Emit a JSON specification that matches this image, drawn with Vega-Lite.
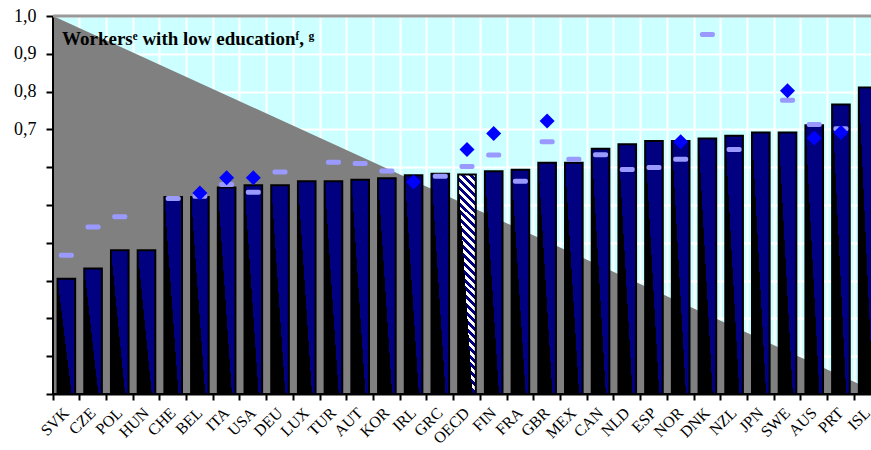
{
  "$schema": "https://vega.github.io/schema/vega-lite/v6.json",
  "width": 818,
  "height": 378,
  "autosize": {"type": "none"},
  "padding": {"left": 53, "top": 16, "right": 0, "bottom": 56},
  "background": "white",
  "config": {
    "view": {"fill": "#ccffff", "stroke": null},
    "font": "Liberation Serif",
    "axisY": {"title": null, "tickCount": 20, "grid": true, "gridColor": "white", "gridWidth": 2, "gridOpacity": 1, "domainColor": "black", "domainWidth": 2, "tickColor": "black", "tickWidth": 2, "tickSize": 7, "labelFont": "Liberation Serif", "labelFontSize": 18, "labelColor": "black", "labelPadding": 10, "labelOverlap": false, "labelBound": false}
  },
  "resolve": {"scale": {"x": "independent"}},
  "layer": [
    {
      "data": {"values": [{"tx": 0, "ty": 1}, {"tx": 31, "ty": 0}]},
      "mark": {"type": "area", "color": "#808080", "opacity": 1, "clip": true},
      "encoding": {
        "x": {"field": "tx", "type": "quantitative", "scale": {"domain": [0, 31], "range": [0, 828], "nice": false, "zero": false}, "axis": null},
        "y": {"field": "ty", "type": "quantitative", "scale": {"domain": [0, 1], "nice": false},
          "axis": {"values": [0, 0.1, 0.2, 0.3, 0.4, 0.5, 0.6, 0.7, 0.8, 0.9, 1], "tickCount": 20, "labelExpr": "datum.value >= 0.65 ? replace(format(datum.value, '.1f'), '.', ',') : ''"}},
        "y2": {"datum": 0}
      }
    },
    {
      "data": {"values": [
        {"c": "SVK", "bar": 0.305, "dash": 0.367},
        {"c": "CZE", "bar": 0.332, "dash": 0.442},
        {"c": "POL", "bar": 0.380, "dash": 0.469},
        {"c": "HUN", "bar": 0.380},
        {"c": "CHE", "bar": 0.521, "dash": 0.517},
        {"c": "BEL", "bar": 0.521, "dash": 0.523, "dia": 0.532},
        {"c": "ITA", "bar": 0.546, "dash": 0.554, "dia": 0.572},
        {"c": "USA", "bar": 0.552, "dash": 0.534, "dia": 0.572},
        {"c": "DEU", "bar": 0.552, "dash": 0.587},
        {"c": "LUX", "bar": 0.563},
        {"c": "TUR", "bar": 0.563, "dash": 0.613},
        {"c": "AUT", "bar": 0.567, "dash": 0.610},
        {"c": "KOR", "bar": 0.571, "dash": 0.590},
        {"c": "IRL", "bar": 0.579, "dia": 0.561},
        {"c": "GRC", "bar": 0.583, "dash": 0.576},
        {"c": "OECD", "bar": 0.581, "dash": 0.602, "dia": 0.647},
        {"c": "FIN", "bar": 0.589, "dash": 0.632, "dia": 0.689},
        {"c": "FRA", "bar": 0.593, "dash": 0.563},
        {"c": "GBR", "bar": 0.612, "dash": 0.667, "dia": 0.722},
        {"c": "MEX", "bar": 0.612, "dash": 0.621},
        {"c": "CAN", "bar": 0.649, "dash": 0.633},
        {"c": "NLD", "bar": 0.661, "dash": 0.594},
        {"c": "ESP", "bar": 0.669, "dash": 0.599},
        {"c": "NOR", "bar": 0.669, "dash": 0.621, "dia": 0.667},
        {"c": "DNK", "bar": 0.676, "dash": 0.951},
        {"c": "NZL", "bar": 0.683, "dash": 0.647},
        {"c": "JPN", "bar": 0.692},
        {"c": "SWE", "bar": 0.692, "dash": 0.777, "dia": 0.802},
        {"c": "AUS", "bar": 0.711, "dash": 0.713, "dia": 0.677},
        {"c": "PRT", "bar": 0.766, "dash": 0.702, "dia": 0.692},
        {"c": "ISL", "bar": 0.811}
      ]},
      "layer": [
        {
          "transform": [{"filter": "datum.c != 'OECD'"}],
          "mark": {"type": "bar", "width": {"band": 0.66}, "stroke": "black", "strokeWidth": 2,
            "fill": {"gradient": "linear", "x1": 0, "y1": 1, "x2": 1, "y2": 0.2,
              "stops": [{"offset": 0, "color": "black"}, {"offset": 0.488, "color": "black"}, {"offset": 0.488, "color": "#000080"}, {"offset": 1, "color": "#000080"}]}},
          "encoding": {
            "x": {"field": "c", "type": "nominal", "sort": null,
              "scale": {"domain": ["SVK","CZE","POL","HUN","CHE","BEL","ITA","USA","DEU","LUX","TUR","AUT","KOR","IRL","GRC","OECD","FIN","FRA","GBR","MEX","CAN","NLD","ESP","NOR","DNK","NZL","JPN","SWE","AUS","PRT","ISL"], "range": [0, 828], "paddingInner": 0, "paddingOuter": 0},
              "axis": {"title": null, "bandPosition": 0, "grid": true, "gridColor": "white", "gridWidth": 2, "gridOpacity": 1, "domainColor": "black", "domainWidth": 2, "tickColor": "black", "tickWidth": 2, "tickSize": 6, "labelAngle": -45, "labelAlign": "right", "labelBaseline": "middle", "labelOffset": 0, "labelFont": "Liberation Serif", "labelFontSize": 16, "labelColor": "black", "labelPadding": 10, "labelOverlap": false, "labelBound": false}},
            "y": {"field": "bar", "type": "quantitative", "scale": {"domain": [0, 1], "nice": false},
              "axis": {"values": [0, 0.1, 0.2, 0.3, 0.4, 0.5, 0.6, 0.7, 0.8, 0.9, 1], "tickCount": 20, "labelExpr": "datum.value >= 0.65 ? replace(format(datum.value, '.1f'), '.', ',') : ''"}}
          }
        },
        {
          "transform": [{"filter": "datum.c == 'OECD'"}],
          "mark": {"type": "bar", "width": {"band": 0.66}, "strokeWidth": 0,
            "fill": {"gradient": "linear", "x1": 1, "y1": 0, "x2": 0.9203, "y2": 1,
              "stops": [
                {"offset": 0, "color": "white"}, {"offset": 0.0179, "color": "white"}, {"offset": 0.0179, "color": "#000080"}, {"offset": 0.0357, "color": "#000080"},
                {"offset": 0.0357, "color": "white"}, {"offset": 0.0536, "color": "white"}, {"offset": 0.0536, "color": "#000080"}, {"offset": 0.0714, "color": "#000080"},
                {"offset": 0.0714, "color": "white"}, {"offset": 0.0893, "color": "white"}, {"offset": 0.0893, "color": "#000080"}, {"offset": 0.1071, "color": "#000080"},
                {"offset": 0.1071, "color": "white"}, {"offset": 0.125, "color": "white"}, {"offset": 0.125, "color": "#000080"}, {"offset": 0.1429, "color": "#000080"},
                {"offset": 0.1429, "color": "white"}, {"offset": 0.1607, "color": "white"}, {"offset": 0.1607, "color": "#000080"}, {"offset": 0.1786, "color": "#000080"},
                {"offset": 0.1786, "color": "white"}, {"offset": 0.1964, "color": "white"}, {"offset": 0.1964, "color": "#000080"}, {"offset": 0.2143, "color": "#000080"},
                {"offset": 0.2143, "color": "white"}, {"offset": 0.2321, "color": "white"}, {"offset": 0.2321, "color": "#000080"}, {"offset": 0.25, "color": "#000080"},
                {"offset": 0.25, "color": "white"}, {"offset": 0.2679, "color": "white"}, {"offset": 0.2679, "color": "#000080"}, {"offset": 0.2857, "color": "#000080"},
                {"offset": 0.2857, "color": "white"}, {"offset": 0.3036, "color": "white"}, {"offset": 0.3036, "color": "#000080"}, {"offset": 0.3214, "color": "#000080"},
                {"offset": 0.3214, "color": "white"}, {"offset": 0.3393, "color": "white"}, {"offset": 0.3393, "color": "#000080"}, {"offset": 0.3571, "color": "#000080"},
                {"offset": 0.3571, "color": "white"}, {"offset": 0.375, "color": "white"}, {"offset": 0.375, "color": "#000080"}, {"offset": 0.3929, "color": "#000080"},
                {"offset": 0.3929, "color": "white"}, {"offset": 0.4107, "color": "white"}, {"offset": 0.4107, "color": "#000080"}, {"offset": 0.4286, "color": "#000080"},
                {"offset": 0.4286, "color": "white"}, {"offset": 0.4464, "color": "white"}, {"offset": 0.4464, "color": "#000080"}, {"offset": 0.4643, "color": "#000080"},
                {"offset": 0.4643, "color": "white"}, {"offset": 0.4821, "color": "white"}, {"offset": 0.4821, "color": "#000080"}, {"offset": 0.5, "color": "#000080"},
                {"offset": 0.5, "color": "white"}, {"offset": 0.5179, "color": "white"}, {"offset": 0.5179, "color": "#000080"}, {"offset": 0.5357, "color": "#000080"},
                {"offset": 0.5357, "color": "white"}, {"offset": 0.5536, "color": "white"}, {"offset": 0.5536, "color": "#000080"}, {"offset": 0.5714, "color": "#000080"},
                {"offset": 0.5714, "color": "white"}, {"offset": 0.5893, "color": "white"}, {"offset": 0.5893, "color": "#000080"}, {"offset": 0.6071, "color": "#000080"},
                {"offset": 0.6071, "color": "white"}, {"offset": 0.625, "color": "white"}, {"offset": 0.625, "color": "#000080"}, {"offset": 0.6429, "color": "#000080"},
                {"offset": 0.6429, "color": "white"}, {"offset": 0.6607, "color": "white"}, {"offset": 0.6607, "color": "#000080"}, {"offset": 0.6786, "color": "#000080"},
                {"offset": 0.6786, "color": "white"}, {"offset": 0.6964, "color": "white"}, {"offset": 0.6964, "color": "#000080"}, {"offset": 0.7143, "color": "#000080"},
                {"offset": 0.7143, "color": "white"}, {"offset": 0.7321, "color": "white"}, {"offset": 0.7321, "color": "#000080"}, {"offset": 0.75, "color": "#000080"},
                {"offset": 0.75, "color": "white"}, {"offset": 0.7679, "color": "white"}, {"offset": 0.7679, "color": "#000080"}, {"offset": 0.7857, "color": "#000080"},
                {"offset": 0.7857, "color": "white"}, {"offset": 0.8036, "color": "white"}, {"offset": 0.8036, "color": "#000080"}, {"offset": 0.8214, "color": "#000080"},
                {"offset": 0.8214, "color": "white"}, {"offset": 0.8393, "color": "white"}, {"offset": 0.8393, "color": "#000080"}, {"offset": 0.8571, "color": "#000080"},
                {"offset": 0.8571, "color": "white"}, {"offset": 0.875, "color": "white"}, {"offset": 0.875, "color": "#000080"}, {"offset": 0.8929, "color": "#000080"},
                {"offset": 0.8929, "color": "white"}, {"offset": 0.9107, "color": "white"}, {"offset": 0.9107, "color": "#000080"}, {"offset": 0.9286, "color": "#000080"},
                {"offset": 0.9286, "color": "white"}, {"offset": 0.9464, "color": "white"}, {"offset": 0.9464, "color": "#000080"}, {"offset": 0.9643, "color": "#000080"},
                {"offset": 0.9643, "color": "white"}, {"offset": 0.9821, "color": "white"}, {"offset": 0.9821, "color": "#000080"}, {"offset": 1, "color": "#000080"}
              ]}},
          "encoding": {
            "x": {"field": "c", "type": "nominal"},
            "y": {"field": "bar", "type": "quantitative"}
          }
        },
        {
          "transform": [{"filter": "datum.c == 'OECD'"}],
          "mark": {"type": "bar", "width": {"band": 0.66}, "stroke": "black", "strokeWidth": 2,
            "fill": {"gradient": "linear", "x1": 0, "y1": 1, "x2": 1, "y2": 0.2,
              "stops": [{"offset": 0, "color": "black"}, {"offset": 0.488, "color": "black"}, {"offset": 0.488, "color": "rgba(0,0,0,0)"}, {"offset": 1, "color": "rgba(0,0,0,0)"}]}},
          "encoding": {
            "x": {"field": "c", "type": "nominal"},
            "y": {"field": "bar", "type": "quantitative"}
          }
        },
        {
          "mark": {"type": "tick", "color": "#9999ff", "size": 15, "thickness": 5, "opacity": 1, "cornerRadius": 2},
          "encoding": {
            "x": {"field": "c", "type": "nominal"},
            "y": {"field": "dash", "type": "quantitative"}
          }
        },
        {
          "mark": {"type": "point", "shape": "diamond", "filled": true, "color": "#0000ff", "size": 225, "opacity": 1, "strokeWidth": 0},
          "encoding": {
            "x": {"field": "c", "type": "nominal"},
            "y": {"field": "dia", "type": "quantitative"}
          }
        },
        {
          "data": {"values": [{}]},
          "mark": {"type": "rule", "color": "black", "strokeWidth": 2},
          "encoding": {"x": {"datum": "SVK", "bandPosition": 0}}
        },
        {
          "data": {"values": [{}]},
          "mark": {"type": "rule", "color": "black", "strokeWidth": 2},
          "encoding": {"y": {"datum": 0}}
        },
        {
          "data": {"values": [{}]},
          "mark": {"type": "rule", "color": "#999999", "strokeWidth": 3},
          "encoding": {"y": {"datum": 1}}
        },
        {
          "data": {"values": [{"t": "Workersᵉ with low educationᶠ, ᵍ"}]},
          "mark": {"type": "text", "align": "left", "baseline": "alphabetic", "font": "Liberation Serif", "fontWeight": "bold", "fontSize": 19, "dx": 9, "color": "black"},
          "encoding": {
            "x": {"datum": "SVK", "bandPosition": 0},
            "y": {"datum": 0.9225},
            "text": {"field": "t"}
          }
        }
      ]
    }
  ]
}
